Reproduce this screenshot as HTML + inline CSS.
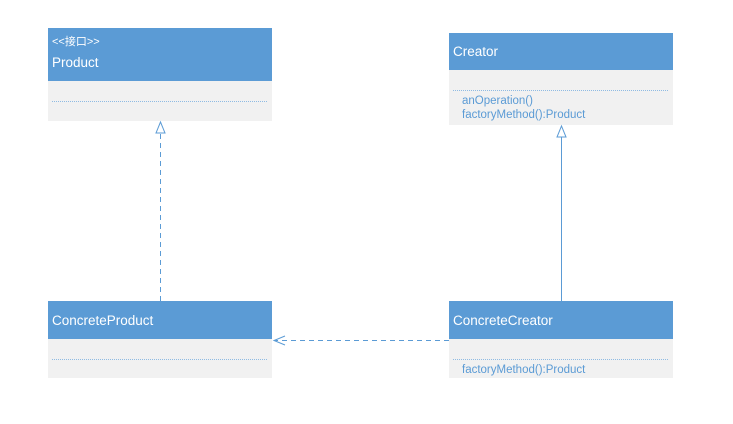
<!DOCTYPE html>
<html><head><meta charset="utf-8"><style>
html,body{margin:0;padding:0;background:#fff;}
svg{display:block;font-family:"Liberation Sans","Noto Sans CJK SC",sans-serif;}
</style></head><body>
<svg width="733" height="424" viewBox="0 0 733 424">
<g fill="#f1f1f1"><rect x="48" y="81" width="224" height="40"/><rect x="449" y="70" width="224" height="55"/><rect x="48" y="339" width="224" height="39"/><rect x="449" y="339" width="224" height="39"/></g>
<g fill="#5b9bd5"><rect x="48" y="28" width="224" height="53"/><rect x="449" y="33" width="224" height="37"/><rect x="48" y="301" width="224" height="38"/><rect x="449" y="301" width="224" height="38"/></g>
<g stroke="#8fbbe3" stroke-width="1" stroke-dasharray="1,1"><line x1="52" y1="101.5" x2="268" y2="101.5"/><line x1="453" y1="90.5" x2="669" y2="90.5"/><line x1="52" y1="359.5" x2="268" y2="359.5"/><line x1="453" y1="359.5" x2="669" y2="359.5"/></g>
<g fill="#fff"><text x="52" y="45" font-size="11">&lt;&lt;接口&gt;&gt;</text><text x="52" y="67" font-size="13.5">Product</text><text x="453" y="56" font-size="13.5">Creator</text><text x="52" y="325" font-size="13.5">ConcreteProduct</text><text x="453" y="325" font-size="13.5">ConcreteCreator</text></g>
<g fill="#5b9bd5" font-size="11.5"><text x="462" y="104">anOperation()</text><text x="462" y="118">factoryMethod():Product</text><text x="462" y="373">factoryMethod():Product</text></g>
<g stroke="#5b9bd5" fill="none" stroke-width="1">
<line x1="160.5" y1="301" x2="160.5" y2="133" stroke-dasharray="5,4"/>
<polygon points="160.5,122 156,133 165,133" fill="#fff"/>
<line x1="561.5" y1="301" x2="561.5" y2="137"/>
<polygon points="561.5,126 557,137 566,137" fill="#fff"/>
<line x1="449" y1="340.5" x2="275" y2="340.5" stroke-dasharray="5,4"/>
<polyline points="285,336 274,340.5 285,345"/>
</g>
</svg>
</body></html>
